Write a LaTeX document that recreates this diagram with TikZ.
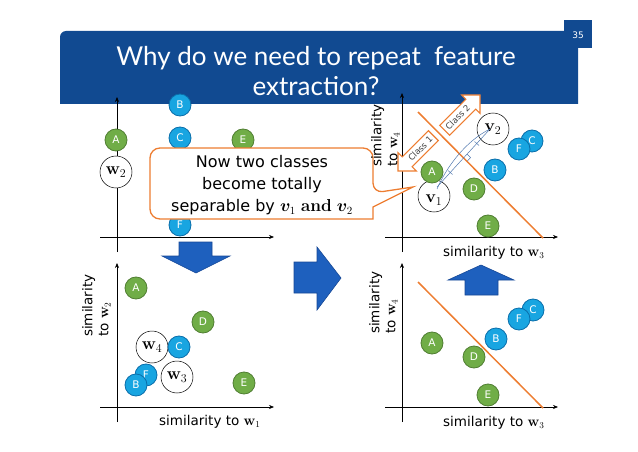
\documentclass[tikz,border=0pt]{standalone}
\usepackage{amsmath}
\usepackage{bm}
\usepackage[no-math]{fontspec}
\setmainfont{DejaVu Sans}
\newfontfamily\titlefont{Lato}
\usetikzlibrary{arrows.meta}
\definecolor{banner}{RGB}{17,74,145}
\definecolor{bigblue}{RGB}{30,96,190}
\definecolor{bigblueedge}{RGB}{22,72,150}
\definecolor{gfill}{RGB}{112,173,71}
\definecolor{gedge}{RGB}{80,126,50}
\definecolor{bfill}{RGB}{24,165,225}
\definecolor{bedge}{RGB}{10,110,170}
\definecolor{orng}{RGB}{237,125,49}
\definecolor{projblue}{RGB}{80,120,175}
\tikzset{
  gball/.style={circle, fill=gfill, draw=gedge, line width=0.8pt, minimum size=22pt, inner sep=0pt, text=white, font=\fontsize{10.5}{10.5}\selectfont},
  bball/.style={circle, fill=bfill, draw=bedge, line width=0.8pt, minimum size=22pt, inner sep=0pt, text=white, font=\fontsize{10.5}{10.5}\selectfont},
  wball/.style={circle, fill=white, draw=black, line width=0.5pt, minimum size=32pt, inner sep=0pt, font=\fontsize{17}{17}\selectfont},
  axis/.style={line width=0.6pt, -{Stealth[length=5pt,width=4pt]}},
  axlabel/.style={font=\fontsize{13.5}{16}\selectfont, inner sep=0pt},
  bigarrow/.style={fill=bigblue, draw=bigblueedge, line width=0.6pt},
  classarrow/.style={fill=white, draw=orng, line width=1.1pt},
  classtext/.style={font=\fontsize{8.5}{8.5}\selectfont, text=black!75, inner sep=0pt, rotate=45},
  sepline/.style={draw=orng, line width=1.5pt},
  proj/.style={draw=projblue, line width=0.5pt},
  titletext/.style={font=\titlefont\fontsize{26}{30}\selectfont, text=white, inner sep=0pt}
}
\begin{document}
\begin{tikzpicture}[x=1pt,y=-1pt]
\useasboundingbox (0,0) rectangle (638,452);
% banner
\fill[banner, rounded corners=6pt] (60,104) -- (60,31) -- (578,31) [sharp corners] -- (578,104) -- cycle;
\fill[banner] (564,20) rectangle (592,48);
\node[text=white, font=\fontsize{9}{9}\selectfont, inner sep=0pt] (pagenum) at (578,35) {35};
\node[titletext] (title1) at (316,58) {Why do we need to repeat\ \ feature};
\node[titletext] (title2) at (316,86) {extraction?};
% axes
\coordinate (tlO1) at (117,252); \coordinate (tlY) at (117,97);
\coordinate (tlO2) at (100,237); \coordinate (tlX) at (274,237);
\draw[axis] (tlO1) -- (tlY);
\draw[axis] (tlO2) -- (tlX);
\coordinate (blO1) at (117,422); \coordinate (blY) at (117,263);
\coordinate (blO2) at (100,407); \coordinate (blX) at (274,407);
\draw[axis] (blO1) -- (blY);
\draw[axis] (blO2) -- (blX);
\coordinate (trO1) at (402,252); \coordinate (trY) at (402,93);
\coordinate (trO2) at (385,237); \coordinate (trX) at (558,237);
\draw[axis] (trO1) -- (trY);
\draw[axis] (trO2) -- (trX);
\coordinate (brO1) at (402,422); \coordinate (brY) at (402,263);
\coordinate (brO2) at (385,407); \coordinate (brX) at (558,407);
\draw[axis] (brO1) -- (brY);
\draw[axis] (brO2) -- (brX);
% separators
\coordinate (trS1) at (418,112); \coordinate (trS2) at (543,238);
\draw[sepline] (trS1) -- (trS2);
\coordinate (brS1) at (418,282); \coordinate (brS2) at (543,408);
\draw[sepline] (brS1) -- (brS2);
% top-left panel
\node[gball] (tlA) at (116,140) {A};
\node[wball] (tlw2) at (116,172) {$\mathbf{w}_2$};
\node[bball] (tlB) at (180,105) {B};
\node[bball] (tlC) at (180,138) {C};
\node[gball] (tlE) at (243,140) {E};
\node[bball] (tlF) at (180,225) {F};
% bottom-left panel
\node[gball] (blA) at (136,288) {A};
\node[gball] (blD) at (203,322) {D};
\node[bball] (blF) at (146,375) {F};
\node[bball] (blB) at (136,385) {B};
\node[wball] (blw4) at (152,347) {$\mathbf{w}_4$};
\node[bball] (blC) at (179,347) {C};
\node[wball] (blw3) at (177,377) {$\mathbf{w}_3$};
\node[gball] (blE) at (244,383) {E};
% top-right panel
\node[wball] (trv1) at (434,196) {};
\node[inner sep=0pt, font=\fontsize{17}{17}\selectfont] (trv1l) at (434,200) {$\mathbf{v}_1$};
\node[gball] (trA) at (432,172) {A};
\node[gball] (trD) at (474,189) {D};
\node[gball] (trE) at (488,226) {E};
\node[bball] (trB) at (495,170) {B};
\node[bball] (trC) at (532,141) {C};
\node[bball] (trF) at (519,149) {F};
\node[wball] (trv2) at (493,129) {$\mathbf{v}_2$};
% projection lines
\coordinate (pv1) at (437,187); \coordinate (pv2) at (490,129);
\draw[proj] (pv1) -- (pv2);
\draw[proj] (437,189) .. controls (447,166) and (466,141) .. (pv2);
\draw[proj] (448,170.5) -- (452.5,174.5);
\draw[proj] (474.5,141.5) -- (479,145.5);
\draw[proj] (467.2,161.2) -- (470.6,157.5) -- (467.1,154.0);
% class arrows
\draw[classarrow] (480,95) -- (480,113.38) -- (475.76,109.14) -- (449.59,135.31) -- (439.69,125.41) -- (465.86,99.24) -- (461.62,95) -- cycle;
\node[classtext] (cls2) at (457.7,117.3) {Class 2};
\draw[classarrow] (398,171) -- (416.38,171) -- (412.14,166.76) -- (438.31,140.59) -- (428.41,130.69) -- (402.24,156.86) -- (398,152.62) -- cycle;
\node[classtext] (cls1) at (420.3,148.7) {Class 1};
% bottom-right panel
\node[gball] (brA) at (432,343) {A};
\node[gball] (brD) at (474,357) {D};
\node[gball] (brE) at (488,395) {E};
\node[bball] (brB) at (496,339) {B};
\node[bball] (brC) at (533,310) {C};
\node[bball] (brF) at (519,319) {F};
% callout
\coordinate (calltip) at (413,187);
\draw[draw=orng, fill=white, line width=1.3pt] (150,184) [rounded corners=10pt] -- (150,148) -- (373,148) -- (373,193) [sharp corners] -- (calltip) -- (373,207) -- (373,219) [rounded corners=10pt] -- (150,219) -- cycle;
\node[font=\fontsize{16}{22}\selectfont, align=center, inner sep=0pt] (calltext) at (262,185) {Now two classes\\become totally\\separable by $\bm{v}_1$ $\mathbf{and}$ $\bm{v}_2$};
% big arrows
\draw[bigarrow] (179,242) -- (212,242) -- (212,256) -- (230,256) -- (196,273) -- (162,256) -- (179,256) -- cycle;
\draw[bigarrow] (294,262) -- (317,262) -- (317,247) -- (341,278) -- (317,310) -- (317,293) -- (294,293) -- cycle;
\draw[bigarrow] (465,295) -- (465,280) -- (448,280) -- (481,265) -- (514,280) -- (498,280) -- (498,295) -- cycle;
% axis labels
\node[axlabel, anchor=base west] (blxl) at (159,425) {similarity to $\mathbf{w}_1$};
\node[axlabel, anchor=base west] (trxl) at (443,256) {similarity to $\mathbf{w}_3$};
\node[axlabel, anchor=base west] (brxl) at (443,426) {similarity to $\mathbf{w}_3$};
\node[axlabel, align=left, rotate=90, anchor=north west] (blyl) at (82,337) {similarity\\to $\mathbf{w}_2$};
\node[axlabel, align=left, rotate=90, anchor=north west] (tryl) at (371,167) {similarity\\to $\mathbf{w}_4$};
\node[axlabel, align=left, rotate=90, anchor=north west] (bryl) at (369,334) {similarity\\to $\mathbf{w}_4$};
\end{tikzpicture}
\end{document}
